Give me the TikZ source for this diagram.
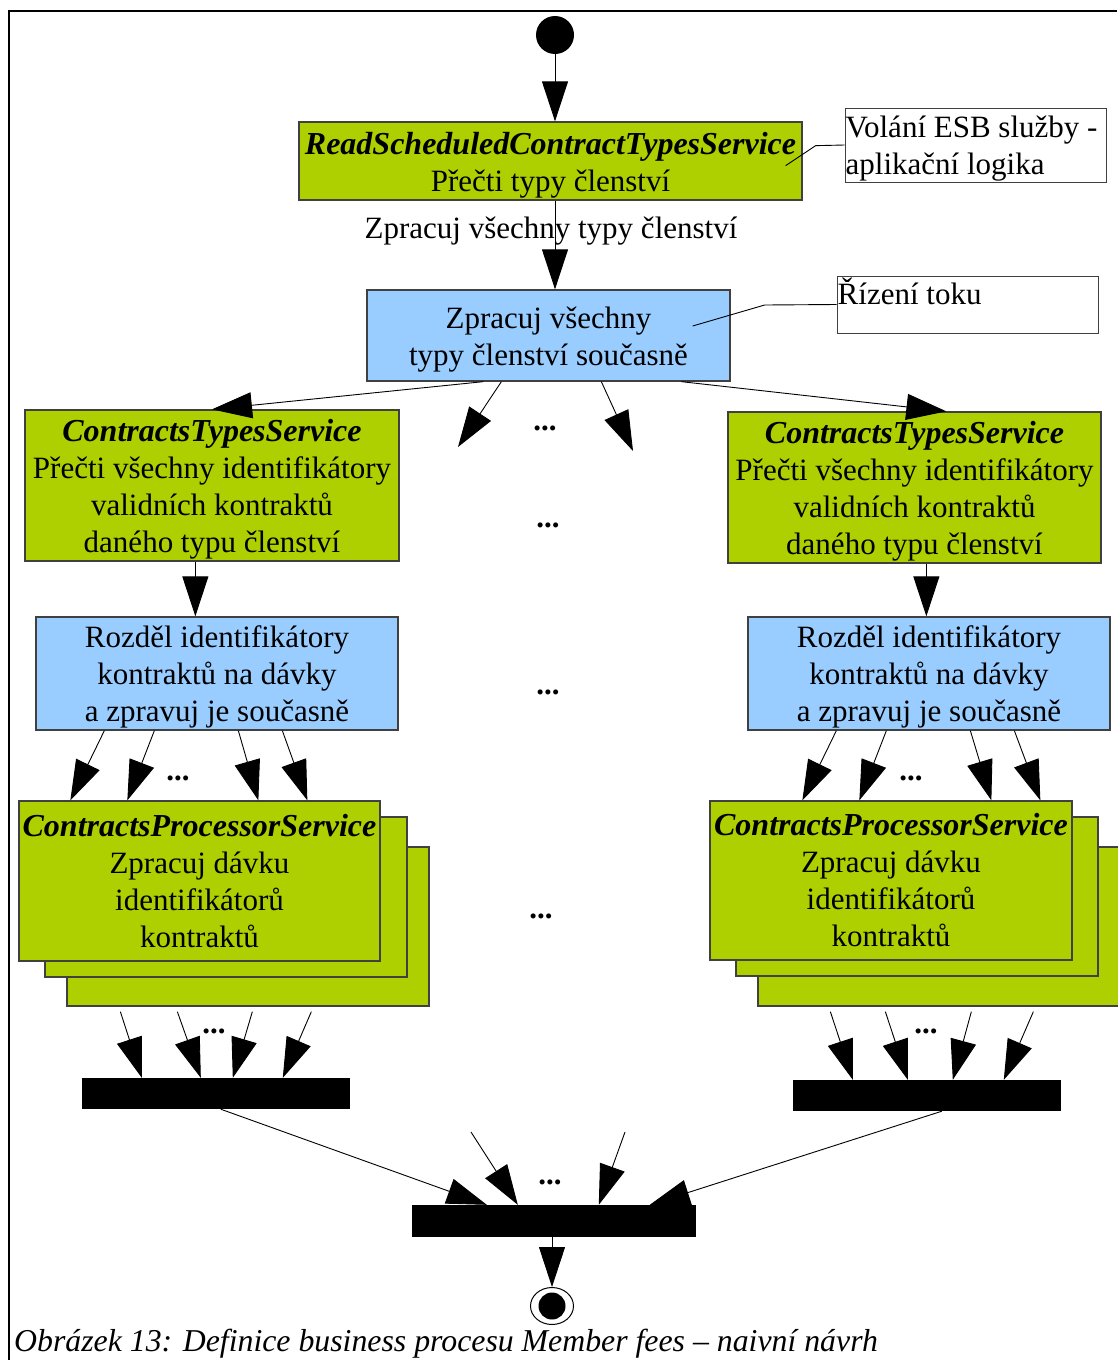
\documentclass[tikz,border=0pt]{standalone}
\usepackage{fontspec}
\setmainfont{Liberation Serif}
\usetikzlibrary{arrows.meta,calc,shapes.geometric}
\definecolor{leaf}{RGB}{174,207,0}
\definecolor{sky}{RGB}{153,204,255}
\newcommand{\bigfont}{\fontsize{31}{37}\selectfont}
\newcommand{\svc}[1]{{\fontsize{32}{37}\selectfont\textbf{\textit{#1}}}}

\begin{document}
\begin{tikzpicture}[x=1pt,y=-1pt,
  every node/.style={inner sep=0pt},
  task/.style={draw=black!75, line width=1.3pt},
  act/.style={task, fill=leaf},
  ctl/.style={task, fill=sky},
  txt/.style={align=center, font=\bigfont},
  memo/.style={draw=black!75, line width=1pt, fill=white},
  memotext/.style={font=\bigfont, align=left, anchor=north west, inner sep=1pt},
  barnode/.style={fill=black},
  flow/.style={-{Triangle[length=40pt,width=26pt]}, line width=0.9pt},
  plain/.style={line width=0.9pt},
  more/.style={font=\bigfont\bfseries},
]
\useasboundingbox (0,0) rectangle (1117,1360);
\fill[white] (0,0) rectangle (1117,1360);

% frame
\draw[line width=2pt] (9,1360) -- (9,11) -- (1117,11);

% start and first service
\node[circle, fill=black, minimum size=38] (start) at (555,35) {};
\node[act, minimum width=503, minimum height=78] (rs) at (550.5,161) {};
\node[txt] (rs-t) at ($(rs.center)+(0,4)$)
  {\svc{ReadScheduledContractTypesService}\\Přečti typy členství};
\draw[flow] (start.south) -- (start.south |- rs.north);

% note: ESB call
\node[memo, minimum width=261, minimum height=74] (note1) at (975.5,145) {};
\node[memotext] (note1-t) at ($(note1.north west)+(0,7)$) {Volání ESB služby -\\aplikační logika};
\draw[plain] ($(rs.south east)+(-17,-35)$) -- ++(30,-20) -- (note1.west);

% parallel split over contract types
\node[ctl, minimum width=363, minimum height=91] (par) at (548.5,335.5) {};
\node[txt] (par-t) at ($(par.center)+(0,4)$) {Zpracuj všechny\\typy členství současně};
\draw[flow] (start.south |- rs.south) -- (start.south |- par.north);
\node[font=\bigfont] (lbl) at (551,231) {Zpracuj všechny typy členství};

% note: flow control
\node[memo, minimum width=261, minimum height=57] (note2) at (967.5,304.5) {};
\node[memotext] (note2-t) at ($(note2.north west)+(0,1)$) {Řízení toku};
\draw[plain] ($(par.east)+(-38,-9.5)$) -- ++(72,-21) -- (note2.west);

% contract type branches
\node[act, minimum width=374, minimum height=151] (ct1) at (212,485.5) {};
\node[txt] (ct1-t) at ($(ct1.center)+(0,4)$)
  {\svc{ContractsTypesService}\\Přečti všechny identifikátory\\validních kontraktů\\daného typu členství};
\node[act, minimum width=373, minimum height=151] (ct2) at (914.5,487.5) {};
\node[txt] (ct2-t) at ($(ct2.center)+(0,4)$)
  {\svc{ContractsTypesService}\\Přečti všechny identifikátory\\validních kontraktů\\daného typu členství};

\coordinate (fa) at (458,447);
\coordinate (fb) at (633,451);
\draw[flow] ($(par.south west)+(117,0)$) -- (ct1.north);
\draw[flow] ($(par.south west)+(135,0)$) -- (fa);
\draw[flow] ($(par.south west)+(235,0)$) -- (fb);
\draw[flow] ($(par.south west)+(315,0)$) -- ($(ct2.north west)+(219,0)$);

\node[more] (d1) at (545,428) {...};
\node[more] (d2) at (548,525) {...};
\node[more] (d3) at (548,692) {...};
\node[more] (d4) at (541,916) {...};

% batch split
\node[ctl, minimum width=362, minimum height=113] (rd1) at (217,673.5) {};
\node[txt] (rd1-t) at ($(rd1.center)+(0,3)$)
  {Rozděl identifikátory\\kontraktů na dávky\\a zpravuj je současně};
\node[ctl, minimum width=362, minimum height=113] (rd2) at (929,673.5) {};
\node[txt] (rd2-t) at ($(rd2.center)+(0,3)$)
  {Rozděl identifikátory\\kontraktů na dávky\\a zpravuj je současně};
\coordinate (s1) at ($(ct1.south west)+(171,0)$);
\coordinate (s2) at ($(ct2.south west)+(199,0)$);
\draw[flow] (s1) -- (s1 |- rd1.north);
\draw[flow] (s2) -- (s2 |- rd2.north);

% batch processors, stacked
\node[act, minimum width=362, minimum height=159] (cp1c) at (248,926.5) {};
\node[act, minimum width=362, minimum height=160] (cp1b) at (226,897) {};
\node[act, minimum width=361, minimum height=160] (cp1) at (199.5,881) {};
\node[txt] (cp1-t) at (cp1.center)
  {\svc{ContractsProcessorService}\\Zpracuj dávku\\identifikátorů\\kontraktů};
\node[act, minimum width=362, minimum height=159] (cp2c) at (939,926.5) {};
\node[act, minimum width=362, minimum height=159] (cp2b) at (917,896.5) {};
\node[act, minimum width=362, minimum height=159] (cp2) at (891,880.5) {};
\node[txt] (cp2-t) at (cp2.center)
  {\svc{ContractsProcessorService}\\Zpracuj dávku\\identifikátorů\\kontraktů};

\foreach \s/\t in {69/52, 119/109, 203/240, 247/289}
  \draw[flow] ($(rd1.south west)+(\s,0)$) -- ($(cp1.north west)+(\t,0)$);
\foreach \s/\t in {89/93, 139/150, 223/282, 267/331}
  \draw[flow] ($(rd2.south west)+(\s,0)$) -- ($(cp2.north west)+(\t,0)$);
\node[more] (d5) at (178,778) {...};
\node[more] (d6) at (911,778) {...};

% joins per contract type
\node[barnode, minimum width=268, minimum height=31] (j1) at (216,1093.5) {};
\node[barnode, minimum width=268, minimum height=31] (j2) at (927,1095.5) {};
\foreach \s/\t in {54/60, 111/119, 186/151, 245/201}
  \draw[flow] ($(cp1c.south west)+(\s,5)$) -- ($(j1.north west)+(\t,0)$);
\foreach \s/\t in {73/60, 128/115, 214/160, 276/211}
  \draw[flow] ($(cp2c.south west)+(\s,5)$) -- ($(j2.north west)+(\t,0)$);
\node[more] (d7) at (214,1031) {...};
\node[more] (d8) at (926,1031) {...};

% final join and end
\node[barnode, minimum width=284, minimum height=32] (j3) at (554,1221) {};
\coordinate (fc) at (471,1132);
\coordinate (fd) at (625,1132);
\draw[flow] ($(j1.south west)+(139,0)$) -- ($(j3.north west)+(75,0)$);
\draw[flow] (fc) -- ($(j3.north west)+(106,0)$);
\draw[flow] (fd) -- ($(j3.north west)+(187,0)$);
\draw[flow] ($(j2.south west)+(149,0)$) -- ($(j3.north west)+(238,0)$);
\node[more] (d9) at (550,1182) {...};

\node[ellipse, draw, line width=1pt, fill=white, minimum width=43, minimum height=37] (end) at (552,1306) {};
\node[circle, fill=black, minimum size=27] (endc) at (end.center) {};
\draw[flow] (end.north |- j3.south) -- (end.north);

% caption
\node[font=\fontsize{31.8}{37}\selectfont\itshape, anchor=west] (cap) at (14,1344)
  {Obrázek 13: Definice business procesu Member fees – naivní návrh};
\end{tikzpicture}
\end{document}
